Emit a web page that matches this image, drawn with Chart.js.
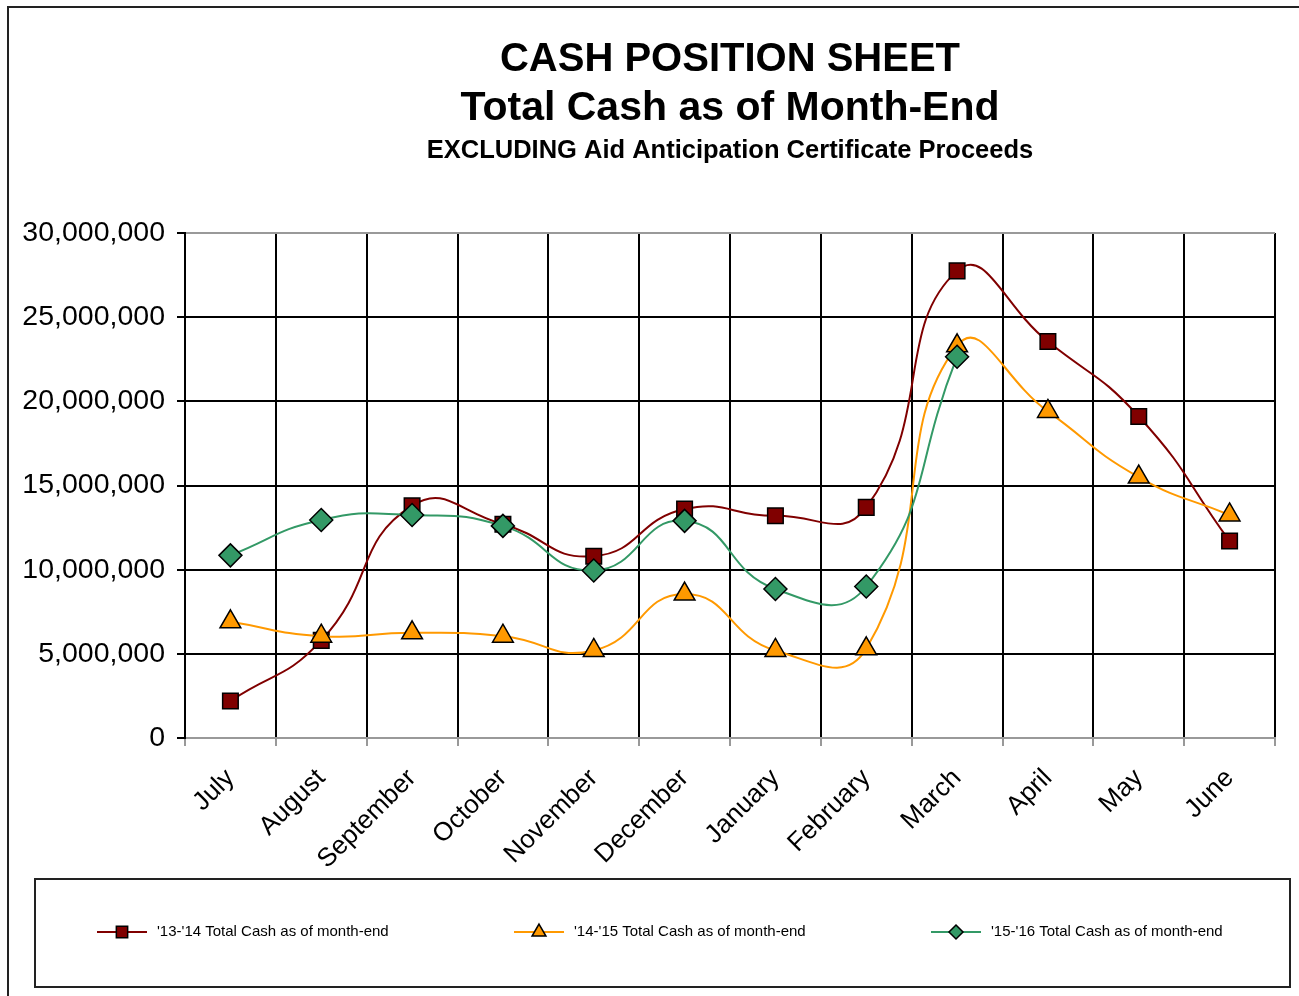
<!DOCTYPE html>
<html>
<head>
<meta charset="utf-8">
<script src="https://cdn.jsdelivr.net/npm/chart.js"></script>
<style>
  body { margin: 0; background: #fff; }
  #wrap { width: 1299px; height: 996px; }
</style>
</head>
<body>
<div id="wrap"><canvas id="mycanvas" width="1299" height="996"></canvas></div>
<script>
// month labels along the x axis
var months = ['July','August','September','October','November','December',
              'January','February','March','April','May','June'];

// total cash at month end, per fiscal year
var cash1314 = [2200000, 5800000, 13800000, 12700000, 10800000, 13600000,
                13200000, 13700000, 27750000, 23550000, 19100000, 11700000];
var cash1415 = [6900000, 6050000, 6250000, 6050000, 5200000, 8550000,
                5200000, 5300000, 23300000, 19400000, 15500000, 13250000];
var cash1516 = [10850000, 12950000, 13250000, 12600000, 9950000, 12900000,
                8850000, 9000000, 22650000, null, null, null];

var seriesNames = ["'13-'14 Total Cash as of month-end",
                   "'14-'15 Total Cash as of month-end",
                   "'15-'16 Total Cash as of month-end"];

// y axis ticks
var yMin = 0, yMax = 30000000, yStep = 5000000;

var titleLines = ['CASH POSITION SHEET', 'Total Cash as of Month-End'];
var subTitle = 'EXCLUDING Aid Anticipation Certificate Proceeds';

var FONT = "'Liberation Sans', Arial, sans-serif";
var RED = '#800000', ORANGE = '#FF9900', GREEN = '#339966';

function marker(ctx, style, x, y, r, fill) {
  ctx.save();
  ctx.fillStyle = fill;
  ctx.strokeStyle = '#000';
  ctx.lineWidth = 1.5;
  ctx.beginPath();
  if (style == 'rect') {
    var s = r * Math.SQRT1_2;
    ctx.rect(x - s, y - s, 2 * s, 2 * s);
  } else if (style == 'triangle') {
    ctx.moveTo(x, y - r);
    ctx.lineTo(x + r * 0.866, y + r / 2);
    ctx.lineTo(x - r * 0.866, y + r / 2);
    ctx.closePath();
  } else {
    ctx.moveTo(x, y - r);
    ctx.lineTo(x + r, y);
    ctx.lineTo(x, y + r);
    ctx.lineTo(x - r, y);
    ctx.closePath();
  }
  ctx.fill();
  ctx.stroke();
  ctx.restore();
}

var decor = {
  id: 'decor',
  afterDraw: function(chart) {
    var ctx = chart.ctx;
    ctx.save();
    // outer frame
    ctx.strokeStyle = '#222';
    ctx.lineWidth = 2;
    ctx.strokeRect(8, 7, 1320, 1020);

    // titles
    var cx = (chart.chartArea.left + chart.chartArea.right) / 2;
    ctx.fillStyle = '#000';
    ctx.textAlign = 'center';
    ctx.textBaseline = 'middle';
    ctx.font = 'bold 40px ' + FONT;
    ctx.fillText(titleLines[0], cx, 60);
    ctx.font = 'bold 41px ' + FONT;
    ctx.fillText(titleLines[1], cx, 109);
    ctx.font = 'bold 25.5px ' + FONT;
    ctx.fillText(subTitle, cx, 151);

    // legend box
    ctx.strokeStyle = '#222';
    ctx.lineWidth = 2;
    ctx.strokeRect(35, 879, 1255, 108);
    var xs = [97, 514, 931];
    var ly = 932;
    ctx.font = '15px ' + FONT;
    ctx.textAlign = 'left';
    chart.data.datasets.forEach(function(ds, i) {
      ctx.strokeStyle = ds.borderColor;
      ctx.lineWidth = 2;
      ctx.beginPath();
      ctx.moveTo(xs[i], ly);
      ctx.lineTo(xs[i] + 50, ly);
      ctx.stroke();
      marker(ctx, ds.pointStyle, xs[i] + 25, ly, ds.pointStyle == 'rectRot' ? 7 : 8, ds.pointBackgroundColor);
      ctx.fillStyle = '#000';
      ctx.fillText(ds.label, xs[i] + 60, ly);
    });
    ctx.restore();
  }
};

var ctx = document.getElementById('mycanvas');
var lineChart = new Chart(ctx, {
  type: 'line',
  data: {
    labels: months,
    datasets: [
      {
        label: seriesNames[0],
        data: cash1314,
        borderColor: RED,
        borderWidth: 2,
        pointStyle: 'rect',
        pointRadius: 11,
        pointBackgroundColor: RED,
        pointBorderColor: '#000',
        pointBorderWidth: 1.5,
        tension: 0.5,
        order: 2
      },
      {
        label: seriesNames[1],
        data: cash1415,
        borderColor: ORANGE,
        borderWidth: 2,
        pointStyle: 'triangle',
        pointRadius: 12,
        pointBackgroundColor: ORANGE,
        pointBorderColor: '#000',
        pointBorderWidth: 1.5,
        tension: 0.5,
        order: 1
      },
      {
        label: seriesNames[2],
        data: cash1516,
        borderColor: GREEN,
        borderWidth: 2,
        pointStyle: 'rectRot',
        pointRadius: 11.5,
        pointBackgroundColor: GREEN,
        pointBorderColor: '#000',
        pointBorderWidth: 1.5,
        tension: 0.5,
        order: 0
      }
    ]
  },
  options: {
    responsive: false,
    animation: false,
    devicePixelRatio: 1,
    layout: { padding: { left: 10, top: 233, right: 24, bottom: 8 } },
    plugins: {
      legend: { display: false },
      title: { display: false },
      tooltip: { enabled: false }
    },
    scales: {
      x: {
        offset: true,
        grid: {
          offset: true,
          color: function(c) { return c.index == 12 ? '#999' : '#000'; },
          lineWidth: 2,
          tickColor: '#999',
          tickLength: 8
        },
        border: { color: '#999', width: 2 },
        ticks: {
          color: '#000',
          font: { family: FONT, size: 26 },
          maxRotation: 45,
          minRotation: 45,
          autoSkip: false,
          padding: 17
        },
        afterFit: function(scale) { scale.height = 250; }
      },
      y: {
        min: yMin,
        max: yMax,
        grid: {
          color: function(c) {
            return (c.tick && (c.tick.value == yMax || c.tick.value == yMin)) ? '#999' : '#000';
          },
          lineWidth: 2,
          tickColor: '#000',
          tickLength: 8
        },
        border: { color: '#000', width: 2 },
        ticks: {
          stepSize: yStep,
          color: '#000',
          font: { family: FONT, size: 28.5 },
          padding: 12,
          callback: function(v) { return v.toLocaleString('en-US'); }
        },
        afterFit: function(scale) { scale.width = 175; }
      }
    }
  },
  plugins: [decor]
});
</script>
</body>
</html>
